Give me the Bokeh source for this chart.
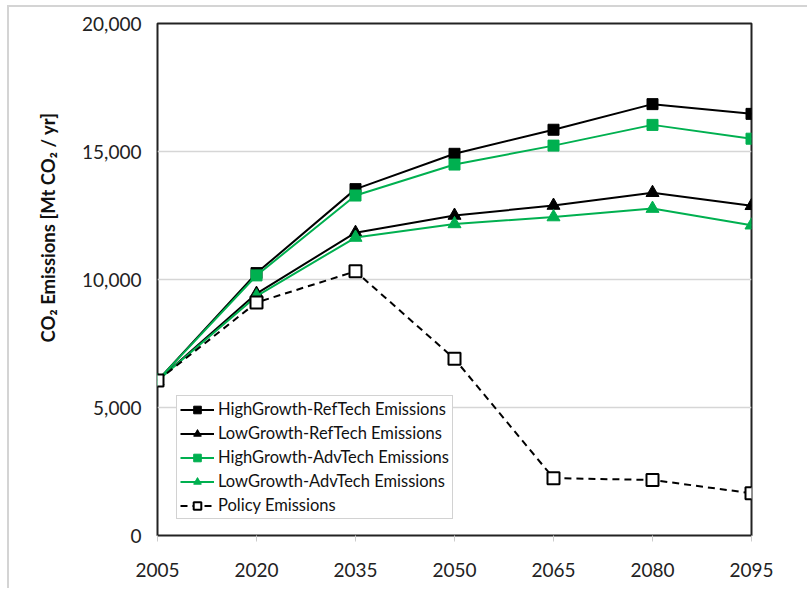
from bokeh.plotting import figure
from bokeh.embed import file_html
from bokeh.resources import INLINE
from bokeh.models import FixedTicker, NumeralTickFormatter, Range1d, Legend, LegendItem, Title

years = [2005, 2020, 2035, 2050, 2065, 2080, 2095]
high_ref = [6050, 10250, 13530, 14910, 15850, 16850, 16470]
low_ref = [6050, 9450, 11830, 12500, 12890, 13390, 12880]
high_adv = [6050, 10160, 13280, 14490, 15230, 16040, 15500]
low_adv = [6050, 9350, 11640, 12170, 12440, 12770, 12120]
policy = [6050, 9100, 10320, 6900, 2240, 2170, 1650]
y_ticks = [0, 5000, 10000, 15000, 20000]

GREEN = "#00b050"
FONT = "Lato"

W, H = 800, 583
p = figure(width=W, height=H, output_backend="svg", toolbar_location=None,
           x_range=Range1d(2005, 2095), y_range=Range1d(0, 20000),
           min_border_left=148, min_border_right=58, min_border_top=16, min_border_bottom=55)
p.styles = {"border-top": "2px solid #d4d4d4", "border-left": "2px solid #d4d4d4",
            "margin-left": "7px", "margin-top": "5px"}

p.outline_line_color = "#222222"
p.outline_line_width = 2
p.xgrid.grid_line_color = None
p.ygrid.grid_line_color = "#d6d6d6"
p.ygrid.grid_line_width = 1.5
p.ygrid.ticker = FixedTicker(ticks=y_ticks)

p.xaxis.ticker = FixedTicker(ticks=years)
p.xaxis.axis_line_color = None
p.xaxis.major_tick_line_color = "#cccccc"
p.xaxis.major_tick_out = 6
p.xaxis.major_tick_in = 0
p.xaxis.minor_tick_line_color = None
p.xaxis.major_label_text_font = FONT
p.xaxis.major_label_text_font_size = "19px"
p.xaxis.major_label_text_color = "#222222"
p.xaxis.major_label_standoff = 21

p.yaxis.ticker = FixedTicker(ticks=y_ticks)
p.yaxis.formatter = NumeralTickFormatter(format="0,0")
p.yaxis.axis_line_color = None
p.yaxis.major_tick_line_color = None
p.yaxis.minor_tick_line_color = None
p.yaxis.major_label_text_font = FONT
p.yaxis.major_label_text_font_size = "19px"
p.yaxis.major_label_text_color = "#222222"
p.yaxis.major_label_standoff = 10

ytitle = Title(text="CO\u2082 Emissions [Mt CO\u2082 / yr]", align="right", offset=89,
               vertical_align="top", standoff=38, text_font=FONT, text_font_size="18.5px",
               text_font_style="bold", text_color="#111111")
p.add_layout(ytitle, "left")

items = []
l1 = p.line(years, high_ref, line_color="black", line_width=2)
m1 = p.scatter(years, high_ref, marker="square", size=11, fill_color="black", line_color="black")
items.append(LegendItem(label="HighGrowth-RefTech Emissions", renderers=[l1, m1]))
l2 = p.line(years, low_ref, line_color="black", line_width=2)
m2 = p.scatter(years, low_ref, marker="triangle", size=13, fill_color="black", line_color="black")
items.append(LegendItem(label="LowGrowth-RefTech Emissions", renderers=[l2, m2]))
l3 = p.line(years, high_adv, line_color=GREEN, line_width=2)
m3 = p.scatter(years, high_adv, marker="square", size=11, fill_color=GREEN, line_color=GREEN)
items.append(LegendItem(label="HighGrowth-AdvTech Emissions", renderers=[l3, m3]))
l4 = p.line(years, low_adv, line_color=GREEN, line_width=2)
m4 = p.scatter(years, low_adv, marker="triangle", size=13, fill_color=GREEN, line_color=GREEN)
items.append(LegendItem(label="LowGrowth-AdvTech Emissions", renderers=[l4, m4]))
l5 = p.line(years, policy, line_color="black", line_width=2, line_dash="7 5")
m5 = p.scatter(years, policy, marker="square", size=12, fill_color="white", line_color="black", line_width=2)
items.append(LegendItem(label="Policy Emissions", renderers=[l5, m5]))

legend = Legend(items=items, location=(19, 16))
legend.border_line_color = "#a6a6a6"
legend.border_line_width = 1
legend.background_fill_alpha = 1
legend.label_text_font = FONT
legend.label_text_font_size = "16.5px"
legend.label_text_color = "#111111"
legend.glyph_width = 34
legend.glyph_height = 19
legend.label_height = 19
legend.spacing = 4
legend.padding = 3
legend.margin = 0
legend.label_standoff = 4
p.add_layout(legend, "center")

open("out.html", "w").write(file_html(p, INLINE))
